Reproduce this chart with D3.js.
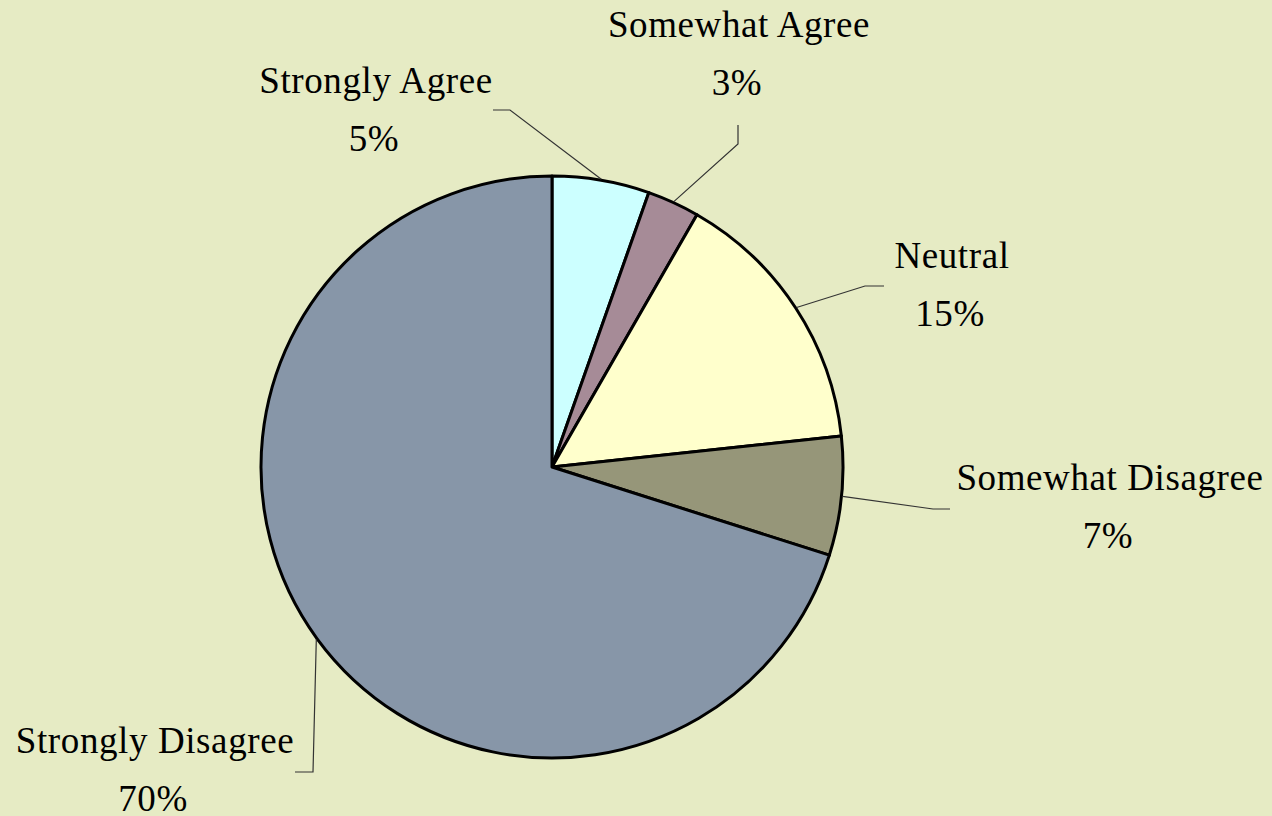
<!DOCTYPE html>
<html>
<head>
<meta charset="utf-8">
<script src="https://cdn.jsdelivr.net/npm/d3@7"></script>
<style>
  html, body { margin: 0; padding: 0; background: #E6EBC4; }
  svg { display: block; }
</style>
</head>
<body>
<svg id="chart" width="1272" height="816"></svg>
<script>
// ---- data ----
const categories = ["Strongly Agree", "Somewhat Agree", "Neutral", "Somewhat Disagree", "Strongly Disagree"];
const values = [5.4, 2.9, 15.0, 6.6, 70.1];
const colors = ["#CCFFFF", "#A68B97", "#FFFFCC", "#969679", "#8796A8"];

// ---- label placement (layout only) ----
const labelLayout = [
  { tx: 376, ty: 93,  elbow: [510, 110], end: [493, 110] },
  { tx: 739, ty: 37,  elbow: [738, 144], end: [738, 125] },
  { tx: 952, ty: 268, elbow: [865, 286], end: [884, 286] },
  { tx: 1110, ty: 490, elbow: [933, 509], end: [950, 509] },
  { tx: 155, ty: 753, elbow: [313, 772], end: [295, 772] }
];

const W = 1272, H = 816;
const cx = 552, cy = 467, R = 291;

const svg = d3.select("#chart");
svg.append("rect").attr("width", W).attr("height", H).attr("fill", "#E6EBC4");

const data = categories.map((c, i) => ({ name: c, value: values[i], color: colors[i], layout: labelLayout[i] }));

const pie = d3.pie().value(d => d.value).sort(null).startAngle(0).endAngle(2 * Math.PI);
const arc = d3.arc().innerRadius(0).outerRadius(R);
const arcs = pie(data);

const g = svg.append("g").attr("transform", `translate(${cx},${cy})`);

// leader lines
const leaders = svg.append("g");
arcs.forEach(a => {
  const mid = (a.startAngle + a.endAngle) / 2;
  const r0 = R + 1;
  const p0 = [cx + r0 * Math.sin(mid), cy - r0 * Math.cos(mid)];
  const L = a.data.layout;
  leaders.append("polyline")
    .attr("points", [p0, L.elbow, L.end].map(p => p.join(",")).join(" "))
    .attr("fill", "none")
    .attr("stroke", "#333")
    .attr("stroke-width", 1.2);
});

g.selectAll("path.slice")
  .data(arcs)
  .join("path")
  .attr("class", "slice")
  .attr("d", arc)
  .attr("fill", d => d.data.color)
  .attr("stroke", "#000")
  .attr("stroke-width", 3)
  .attr("stroke-linejoin", "round");

// labels
const fmt = v => Math.round(v) + "%";
const labels = svg.append("g")
  .attr("font-family", "'Liberation Serif', 'Times New Roman', serif")
  .attr("font-size", 37)
  .attr("letter-spacing", 0.6)
  .attr("fill", "#000")
  .attr("text-anchor", "middle");

arcs.forEach(a => {
  const L = a.data.layout;
  labels.append("text").attr("x", L.tx).attr("y", L.ty).text(a.data.name);
  labels.append("text").attr("x", L.tx - 2).attr("y", L.ty + 58).text(fmt(a.data.value));
});
</script>
</body>
</html>
